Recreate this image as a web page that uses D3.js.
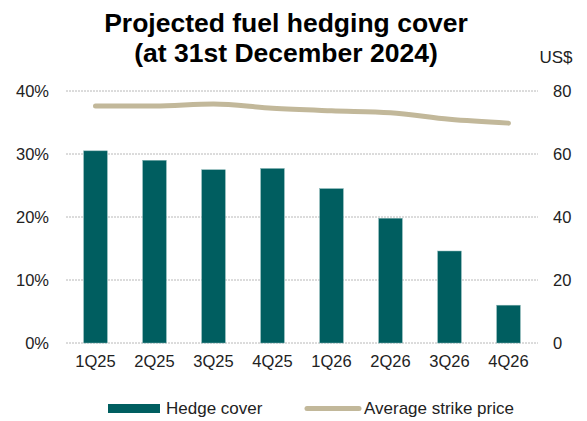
<!DOCTYPE html>
<html>
<head>
<script src="https://cdn.jsdelivr.net/npm/d3@7"></script>
<style>
  body { margin: 0; background: #fff; }
  text { font-family: "Liberation Sans", Arial, sans-serif; }
</style>
</head>
<body>
<script>
var quarters = ["1Q25", "2Q25", "3Q25", "4Q25", "1Q26", "2Q26", "3Q26", "4Q26"];
var hedgeCover = [30.5, 29.0, 27.5, 27.7, 24.5, 19.8, 14.6, 6.0];
var strikePrice = [75.2, 75.2, 75.9, 74.5, 73.7, 73.1, 71.0, 69.8];
var leftTicks = [0, 10, 20, 30, 40];
var rightTicks = [0, 20, 40, 60, 80];

var w = 587, h = 421;
var margin = { top: 91, right: 49, bottom: 78, left: 66 };
var tickFont = "16.5px";

var svg = d3.select("body").append("svg")
  .attr("width", w)
  .attr("height", h);

var x = d3.scaleBand()
  .domain(quarters)
  .range([margin.left, w - margin.right])
  .paddingInner(0.6)
  .paddingOuter(0.3);

var yL = d3.scaleLinear().domain([0, 40]).range([h - margin.bottom, margin.top]);
var yR = d3.scaleLinear().domain([0, 80]).range([h - margin.bottom, margin.top]);

// title
svg.append("text")
  .attr("x", 286).attr("y", 32)
  .attr("text-anchor", "middle")
  .style("font-size", "26.5px").style("font-weight", "bold")
  .text("Projected fuel hedging cover");
svg.append("text")
  .attr("x", 286).attr("y", 62)
  .attr("text-anchor", "middle")
  .style("font-size", "26.5px").style("font-weight", "bold")
  .text("(at 31st December 2024)");

svg.append("text")
  .attr("x", 556).attr("y", 63)
  .attr("text-anchor", "middle")
  .style("font-size", "17px").attr("fill", "#222")
  .text("US$");

// gridlines
svg.append("g").selectAll("line")
  .data(leftTicks)
  .enter().append("line")
  .attr("x1", margin.left).attr("x2", w - margin.right)
  .attr("y1", function (d) { return yL(d); })
  .attr("y2", function (d) { return yL(d); })
  .attr("stroke", "#b8b8b8")
  .attr("stroke-dasharray", "2,1");

// left axis
var leftAxis = svg.append("g")
  .attr("transform", "translate(" + margin.left + ",0)")
  .call(d3.axisLeft(yL).tickValues(leftTicks).tickSize(0).tickPadding(17)
    .tickFormat(function (d) { return d + "%"; }));
leftAxis.select(".domain").remove();
leftAxis.selectAll("text").style("font-size", tickFont).attr("fill", "#222")
  .style("font-family", "Liberation Sans, Arial, sans-serif");

// right axis
var rightAxis = svg.append("g")
  .attr("transform", "translate(" + (w - margin.right) + ",0)")
  .call(d3.axisRight(yR).tickValues(rightTicks).tickSize(0).tickPadding(15));
rightAxis.select(".domain").remove();
rightAxis.selectAll("text").style("font-size", tickFont).attr("fill", "#222")
  .style("font-family", "Liberation Sans, Arial, sans-serif");

// bars
svg.append("g").selectAll("rect")
  .data(hedgeCover)
  .enter().append("rect")
  .attr("x", function (d, i) { return x(quarters[i]); })
  .attr("y", function (d) { return yL(d); })
  .attr("width", x.bandwidth())
  .attr("height", function (d) { return yL(0) - yL(d); })
  .attr("fill", "#005e60")
  .attr("stroke", "#7fb0b0")
  .attr("stroke-width", 0.5);

// x axis
var xAxis = svg.append("g")
  .attr("transform", "translate(0," + (h - margin.bottom) + ")")
  .call(d3.axisBottom(x).tickSize(0).tickPadding(12));
xAxis.select(".domain").remove();
xAxis.selectAll("text").style("font-size", tickFont).attr("fill", "#222")
  .style("font-family", "Liberation Sans, Arial, sans-serif");

// line
var line = d3.line()
  .x(function (d, i) { return x(quarters[i]) + x.bandwidth() / 2; })
  .y(function (d) { return yR(d); })
  .curve(d3.curveMonotoneX);

svg.append("path")
  .datum(strikePrice)
  .attr("d", line)
  .attr("fill", "none")
  .attr("stroke", "#c2b89a")
  .attr("stroke-width", 5)
  .attr("stroke-linecap", "round");

// legend
var lg = svg.append("g");
lg.append("rect")
  .attr("x", 108).attr("y", 404).attr("width", 52).attr("height", 9)
  .attr("fill", "#005e60");
lg.append("text")
  .attr("x", 166).attr("y", 414)
  .style("font-size", "17px").attr("fill", "#222")
  .text("Hedge cover");
lg.append("line")
  .attr("x1", 307).attr("x2", 359).attr("y1", 408.5).attr("y2", 408.5)
  .attr("stroke", "#c2b89a").attr("stroke-width", 5).attr("stroke-linecap", "round");
lg.append("text")
  .attr("x", 364).attr("y", 414)
  .style("font-size", "17px").attr("fill", "#222")
  .text("Average strike price");
</script>
</body>
</html>
